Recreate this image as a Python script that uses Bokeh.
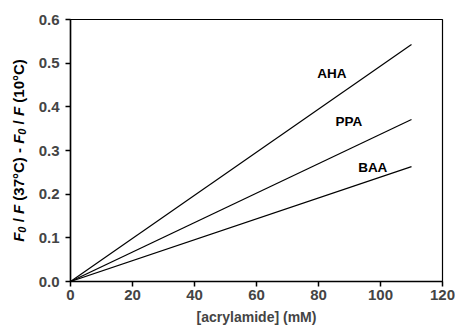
import math
from bokeh.plotting import figure
from bokeh.embed import file_html
from bokeh.resources import INLINE
from bokeh.models import Range1d, FixedTicker, NumeralTickFormatter, Label
from bokeh.layouts import row
from bokeh.core.properties import value

names = ["AHA", "PPA", "BAA"]
x_start = [0, 0, 0]
x_end = [110, 110, 110]
y_start = [0.0, 0.0, 0.0]
y_end = [0.543, 0.371, 0.263]
label_x = [84.3, 89.8, 97.5]
label_y = [0.476, 0.366, 0.261]
x_ticks = [0, 20, 40, 60, 80, 100, 120]
y_ticks = [0, 0.1, 0.2, 0.3, 0.4, 0.5, 0.6]

W, H = 455, 329
LW = 35                      # width of the strip holding the y-axis title
L, R, T, B = 69, 13, 19, 48  # frame margins in the full window

p = figure(width=W - LW, height=H, output_backend="svg", toolbar_location=None,
           x_range=Range1d(0, 120), y_range=Range1d(0, 0.6),
           min_border_left=L - LW, min_border_right=R, min_border_top=T, min_border_bottom=B)
p.grid.visible = False
p.outline_line_color = "black"
p.outline_line_width = 1.2
p.background_fill_color = "white"
p.border_fill_color = "white"

for i in range(len(names)):
    p.line([x_start[i], x_end[i]], [y_start[i], y_end[i]], line_color="black", line_width=1.2)
    p.text([label_x[i]], [label_y[i]], text=[names[i]], text_align="center", text_baseline="middle",
           text_font=value("Liberation Sans"), text_font_style="bold", text_font_size="13.5px", text_color="black")

p.xaxis.ticker = FixedTicker(ticks=x_ticks)
p.yaxis.ticker = FixedTicker(ticks=y_ticks)
p.yaxis.formatter = NumeralTickFormatter(format="0.0")
p.xaxis.axis_label = "[acrylamide] (mM)"
for ax in [p.xaxis, p.yaxis]:
    ax.axis_line_width = 1.5
    ax.major_tick_line_width = 1.5
    ax.major_tick_out = 5
    ax.major_tick_in = 0
    ax.minor_tick_line_color = None
    ax.major_label_text_font = "Liberation Sans"
    ax.major_label_text_font_style = "bold"
    ax.major_label_text_font_size = "15px"
    ax.axis_label_text_font = "Liberation Sans"
    ax.axis_label_text_font_style = "bold"
    ax.axis_label_text_font_size = "14px"
p.xaxis.axis_label_standoff = 6
p.xaxis.major_label_standoff = 3
p.yaxis.major_label_standoff = 6

# strip on the left with the y-axis title (italic F with subscript 0)
q = figure(width=LW, height=H, output_backend="svg", toolbar_location=None,
           x_axis_location=None, y_axis_location=None,
           min_border_left=0, min_border_right=0, min_border_top=T, min_border_bottom=B)
q.grid.visible = False
q.outline_line_color = None
q.background_fill_color = "white"
q.border_fill_color = "white"
q.scatter([0], [0], alpha=0)

fh = H - T - B
big, small = 15, 11
S = "\u00a0"
em = {"F": 0.611, "0": 0.556, S: 0.278, "/": 0.278, "(": 0.333, ")": 0.333,
      "3": 0.556, "7": 0.556, "1": 0.556, "°": 0.4, "C": 0.722, "-": 0.333}
pieces = [("F", "bold italic", big, 0), ("0", "bold italic", small, 3),
          (S + "/" + S, "bold", big, 0), ("F", "bold italic", big, 0),
          (S + "(37°C)" + S + "-" + S, "bold", big, 0),
          ("F", "bold italic", big, 0), ("0", "bold italic", small, 3),
          (S + "/" + S, "bold", big, 0), ("F", "bold italic", big, 0),
          (S + "(10°C)", "bold", big, 0)]
widths = [sum(em.get(c, 0.556) for c in t) * s for t, _, s, _ in pieces]
total = sum(widths)
pos = fh / 2 - total / 2
base_x = 18
for (t, st, s, dx), w in zip(pieces, widths):
    q.add_layout(Label(x=base_x + dx, y=pos, x_units="screen", y_units="screen",
                       text=t, angle=math.pi / 2,
                       text_align="left", text_baseline="alphabetic",
                       text_font="Liberation Sans", text_font_style=st,
                       text_font_size=f"{s}px", text_color="black"))
    pos += w

layout = row(q, p, spacing=0)
open("out.html", "w").write(file_html(layout, INLINE))
